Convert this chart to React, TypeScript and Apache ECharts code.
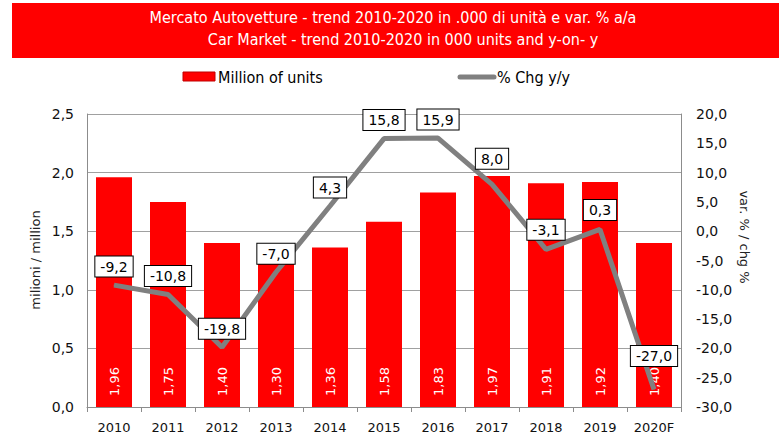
import React, { useEffect, useRef } from "react";
import * as echarts from "echarts";

const categories = ["2010", "2011", "2012", "2013", "2014", "2015", "2016", "2017", "2018", "2019", "2020F"];
const units = [1.96, 1.75, 1.4, 1.3, 1.36, 1.58, 1.83, 1.97, 1.91, 1.92, 1.4];
const chg = [-9.2, -10.8, -19.8, -7.0, 4.3, 15.8, 15.9, 8.0, -3.1, 0.3, -27.0];
const chgLabelDist = [8, 8, 8, 8, 8, 8, 8, 15, 9, 9, 23];
const titleLines = [
  "Mercato Autovetture - trend 2010-2020 in .000 di unità e var. % a/a",
  "Car Market - trend 2010-2020 in 000 units and y-on- y",
];
const legendNames = ["Million of units", "% Chg y/y"];
const leftAxisName = "milioni / million";
const rightAxisName = "var. % / chg %";

const fmt1 = (v: number) => v.toFixed(1).replace(".", ",");
const fmt2 = (v: number) => v.toFixed(2).replace(".", ",");

export default function App() {
  const ref = useRef<HTMLDivElement>(null);
  useEffect(() => {
    if (!ref.current) return;
    const chart = echarts.init(ref.current, undefined, { renderer: "svg" });
    const axisFont = "DejaVu Sans";
    const condFont = "DejaVu Sans Condensed";
    chart.setOption({
      animation: false,
      backgroundColor: "#fff",
      grid: { left: 87, right: 98, top: 114, bottom: 29 },
      graphic: [
        { type: "rect", shape: { x: 12, y: 3, width: 767, height: 55 }, style: { fill: "#ff0000" } },
        {
          type: "text",
          x: 393,
          y: 17,
          style: { text: titleLines[0], fill: "#fff", font: `16px '${condFont}'`, align: "center", verticalAlign: "middle" },
        },
        {
          type: "text",
          x: 403,
          y: 39,
          style: { text: titleLines[1], fill: "#fff", font: `16px '${condFont}'`, align: "center", verticalAlign: "middle" },
        },
        { type: "rect", shape: { x: 183, y: 72, width: 32, height: 9 }, style: { fill: "#ff0000", stroke: "#c00000", lineWidth: 1 } },
        {
          type: "text",
          x: 218,
          y: 77,
          style: { text: legendNames[0], fill: "#000", font: `16px '${condFont}'`, align: "left", verticalAlign: "middle" },
        },
        {
          type: "line",
          shape: { x1: 460, y1: 77, x2: 494, y2: 77 },
          style: { stroke: "#808080", lineWidth: 5, lineCap: "round" },
        },
        {
          type: "text",
          x: 497,
          y: 77,
          style: { text: legendNames[1], fill: "#000", font: `16px '${condFont}'`, align: "left", verticalAlign: "middle" },
        },
        {
          type: "text",
          x: 35,
          y: 260,
          rotation: Math.PI / 2,
          style: { text: leftAxisName, fill: "#222", font: `13px '${axisFont}'`, align: "center", verticalAlign: "middle" },
        },
        {
          type: "text",
          x: 744,
          y: 237,
          rotation: -Math.PI / 2,
          style: { text: rightAxisName, fill: "#222", font: `13px '${axisFont}'`, align: "center", verticalAlign: "middle" },
        },
      ],
      xAxis: {
        type: "category",
        data: categories,
        axisLine: { show: true, lineStyle: { color: "#8c8c8c", width: 1 } },
        axisTick: { show: true, alignWithLabel: false, length: 5, lineStyle: { color: "#8c8c8c" } },
        axisLabel: { color: "#111", fontFamily: axisFont, fontSize: 13, margin: 14 },
      },
      yAxis: [
        {
          type: "value",
          min: 0,
          max: 2.5,
          interval: 0.5,
          position: "left",
          axisLine: { show: true, lineStyle: { color: "#8c8c8c" } },
          axisTick: { show: false },
          splitLine: { show: true, lineStyle: { color: "#a0a0a0", width: 1 } },
          axisLabel: { color: "#111", fontFamily: axisFont, fontSize: 14, margin: 13, formatter: (v: number) => fmt1(v) },
        },
        {
          type: "value",
          min: -30,
          max: 20,
          interval: 5,
          position: "right",
          axisLine: { show: true, lineStyle: { color: "#8c8c8c" } },
          axisTick: { show: false },
          splitLine: { show: false },
          axisLabel: { color: "#111", fontFamily: axisFont, fontSize: 14, margin: 15, formatter: (v: number) => fmt1(v) },
        },
      ],
      series: [
        {
          name: legendNames[0],
          type: "bar",
          yAxisIndex: 0,
          data: units,
          barWidth: 36,
          itemStyle: { color: "#ff0000" },
          label: {
            show: true,
            position: "insideBottom",
            rotate: 90,
            align: "left",
            verticalAlign: "middle",
            distance: 11,
            color: "#fff",
            fontFamily: axisFont,
            fontSize: 13,
            formatter: (p: any) => fmt2(p.value),
          },
        },
        {
          name: legendNames[1],
          type: "line",
          yAxisIndex: 1,
          data: chg.map((v, i) => ({ value: v, label: { distance: chgLabelDist[i] } })),
          showSymbol: true,
          symbol: "circle",
          symbolSize: 1,
          lineStyle: { color: "#808080", width: 5 },
          itemStyle: { color: "#808080" },
          z: 5,
          label: {
            show: true,
            position: "top",
            color: "#000",
            fontFamily: axisFont,
            fontSize: 14,
            backgroundColor: "#fff",
            borderColor: "#000",
            borderWidth: 1,
            padding: [3, 5, 3, 5],
            formatter: (p: any) => fmt1(p.value),
          },
        },
      ],
    });
    return () => chart.dispose();
  }, []);
  return <div ref={ref} style={{ width: 779, height: 436, position: "absolute", left: 0, top: 0 }} />;
}
